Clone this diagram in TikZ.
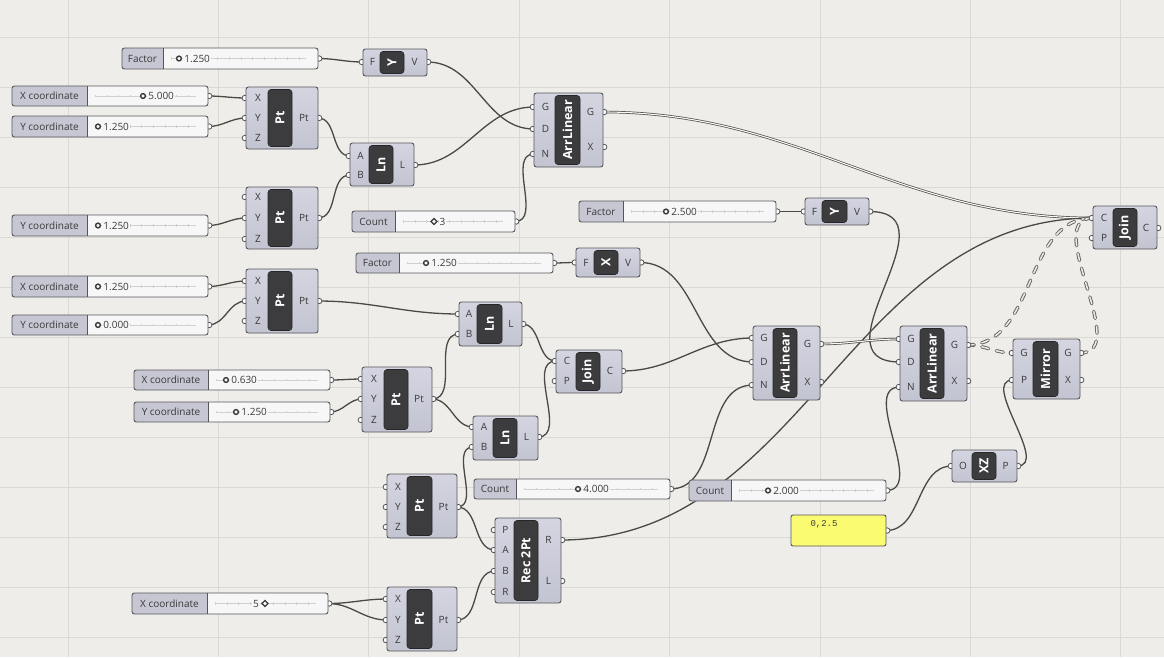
\documentclass[tikz,border=0pt]{standalone}
\usepackage{fontspec}
\setmainfont{Open Sans}
\newfontfamily\panelfont{Liberation Mono}
\usetikzlibrary{fit}
\pgfdeclarelayer{bglayer}
\pgfdeclarelayer{wirelayer}
\pgfdeclarelayer{griplayer}
\pgfsetlayers{bglayer,wirelayer,griplayer,main}
\definecolor{bgc}{HTML}{EEEDE9}
\definecolor{gridc}{HTML}{DAD9D3}
\definecolor{bodytop}{HTML}{D4D5E1}
\definecolor{bodybot}{HTML}{C3C4D1}
\definecolor{labc}{HTML}{C6C7D3}
\definecolor{edgec}{HTML}{55565A}
\definecolor{capc}{HTML}{3C3C3E}
\definecolor{wirec}{HTML}{4A4944}
\definecolor{slidc}{HTML}{F7F7F7}
\definecolor{tickc}{HTML}{D0D0D0}
\definecolor{txtc}{HTML}{3A3A3A}
\definecolor{panelc}{HTML}{FBFB72}
\definecolor{treein}{HTML}{ECEBE4}
\tikzset{
  body/.style={draw=edgec, top color=bodytop, bottom color=bodybot, line width=0.9pt, rounded corners=2.5pt, inner sep=0pt},
  capsule/.style={draw=black!85, fill=capc, line width=0.6pt, rounded corners=3pt, inner sep=0pt},
  captext/.style={text=white, font=\bfseries\fontsize{12.5}{13}\selectfont, rotate=90, inner sep=0pt},
  porttext/.style={text=txtc, font=\fontsize{10}{12}\selectfont, inner sep=0pt},
  valtext/.style={text=txtc, font=\fontsize{10}{12}\selectfont, inner sep=1pt, fill=slidc},
  slbox/.style={fill=slidc, draw=none, rounded corners=2.5pt, inner sep=0pt},
  panelbox/.style={fill=panelc, draw=edgec, line width=0.9pt, rounded corners=2pt, inner sep=0pt},
  grip/.style={draw=edgec, fill=white, line width=0.8pt},
  wire/.style={draw=wirec, line width=1.3pt, out=0, in=180},
  listwire/.style={draw=wirec, line width=0.7pt, double=white!60!bgc, double distance=1.1pt, out=0, in=180},
  treewire/.style={draw=wirec!85, line width=3.4pt, line cap=round, dash pattern=on 7pt off 8pt, out=0, in=180,
    postaction={draw=treein, line width=1.5pt, line cap=round, dash pattern=on 7pt off 8pt}}
}
\newcommand\ghcomp[8]{%
  \pgfmathsetmacro\ghlx{(#2+#6)/2+1}%
  \pgfmathsetmacro\ghrx{(#7+#4)/2-1}%
  \pgfmathsetmacro\ghl{#2}%
  \pgfmathsetmacro\ghr{#4}%
  \node[body, fit={(#2,#3) (#4,#5)}] (#1) {};
  \node[capsule, fit={(#6,{#3+2.5}) (#7,{#5-2.5})}] (#1-c) {};
  \node[captext] at (#1-c.center) {#8};
}
\newcommand\ghin[3]{%
  \coordinate (#1) at (\ghl,#2);
  \begin{pgfonlayer}{griplayer}\draw[grip] ({\ghl-1.2},#2) circle (2.7pt);\end{pgfonlayer}
  \node[porttext] at (\ghlx,#2) {#3};
}
\newcommand\ghout[3]{%
  \coordinate (#1) at (\ghr,#2);
  \begin{pgfonlayer}{griplayer}\draw[grip] ({\ghr+1.2},#2) circle (2.7pt);\end{pgfonlayer}
  \node[porttext] at (\ghrx,#2) {#3};
}
\newcommand\ghslider[7]{%
  \pgfmathsetmacro\ghsy{(#3+#5)/2}%
  \coordinate (#1) at (#4,\ghsy);
  \begin{pgfonlayer}{griplayer}\draw[grip] ({#4+1.2},\ghsy) circle (2.7pt);\end{pgfonlayer}
  \node[slbox, fit={(#2,#3) (#4,#5)}] (#1-b) {};
  \fill[labc, rounded corners=2.5pt] (#2,#3) rectangle (#6,#5);
  \fill[labc] ({#6-3},#3) rectangle (#6,#5);
  \draw[edgec, line width=0.8pt] (#6,#3) -- (#6,#5);
  \draw[edgec, line width=0.9pt, rounded corners=2.5pt] (#2,#3) rectangle (#4,#5);
  \draw[tickc, line width=0.5pt] ({#6+8},\ghsy) -- ({#4-12},\ghsy);
  \draw[tickc, line width=2.5pt, dash pattern=on 0.6pt off 11pt] ({#6+8},\ghsy) -- ({#4-12},\ghsy);
  \node[porttext] at ({(#2+#6)/2},\ghsy) {#7};
}
\newcommand\slvalc[3]{%
  \node[valtext, anchor=west] at ({#1+4.2},#2) {#3};
  \draw[txtc, line width=1.4pt, fill=slidc] (#1,#2) circle (2.4pt);
}
\newcommand\slvald[1]{%
  \draw[txtc, line width=1.1pt, fill=slidc] #1 ++(-3,0) -- ++(3,-3) -- ++(3,3) -- ++(-3,3) -- cycle;
}
\begin{document}
\begin{tikzpicture}[x=1pt, y=-1pt]
\useasboundingbox (0,0) rectangle (1164,657);
\begin{pgfonlayer}{bglayer}
  \fill[bgc] (0,0) rectangle (1164,657);
  \foreach \gx in {68,218.4,368.8,519.2,669.6,820,970.4,1120.8}
    \draw[gridc, line width=0.8pt] (\gx,0) -- (\gx,657);
  \foreach \gy in {37,87,...,637}
    \draw[gridc, line width=0.8pt] (0,\gy) -- (1164,\gy);
\end{pgfonlayer}

% ---------- sliders ----------
\ghslider{sF1}{122}{48}{318}{69}{163}{Factor}\slvalc{179}{58.5}{1.250}
\ghslider{sX1}{12}{86}{208}{106}{87}{X coordinate}\slvalc{143}{96}{5.000}
\ghslider{sY1}{12}{116}{208}{137}{87}{Y coordinate}\slvalc{98}{126.5}{1.250}
\ghslider{sY2}{12}{215}{208}{236}{87}{Y coordinate}\slvalc{98}{225.5}{1.250}
\ghslider{sX3}{12}{276}{208}{297}{87}{X coordinate}\slvalc{98}{286.5}{1.250}
\ghslider{sY3}{12}{315}{208}{335}{87}{Y coordinate}\slvalc{98}{325}{0.000}
\ghslider{sX4}{134}{370}{330}{390}{208}{X coordinate}\slvalc{226}{380}{0.630}
\ghslider{sY4}{134}{402}{330}{422}{208}{Y coordinate}\slvalc{236}{412}{1.250}
\ghslider{sC3}{352}{211}{515}{232}{395}{Count}
  \node[valtext, anchor=west] (vC3) at (438.5,221.5) {3};
  \slvald{(434,221.5)}
\ghslider{sF2}{579}{201}{776}{222}{623}{Factor}\slvalc{666}{211.5}{2.500}
\ghslider{sF3}{356}{253}{553}{273}{399}{Factor}\slvalc{426}{263}{1.250}
\ghslider{sC4}{474}{479}{670}{499}{516}{Count}\slvalc{578}{489}{4.000}
\ghslider{sC2}{689}{480}{886}{501}{731}{Count}\slvalc{768}{490.5}{2.000}
\ghslider{sX5}{132}{593}{328}{614}{207}{X coordinate}
  \node[valtext, anchor=east] (vX5) at (260,603.5) {5};
  \slvald{(265,603.5)}

% ---------- panel ----------
\node[panelbox, fit={(791,515) (886,546)}] (panelb) {};
\coordinate (panel) at (886,530.5);
\begin{pgfonlayer}{griplayer}\draw[grip] (887.2,530.5) circle (2.7pt);\end{pgfonlayer}
\node[text=txtc, font=\panelfont\fontsize{9}{10}\selectfont, inner sep=0pt] (paneltxt) at (824,524) {0,2.5};

% ---------- components ----------
\ghcomp{y1}{363}{49}{427}{76}{380}{404}{Y}
\ghin{y1F}{62}{F}\ghout{y1V}{62}{V}

\ghcomp{pt1}{246}{87}{318}{149}{268}{292}{Pt}
\ghin{pt1X}{98}{X}\ghin{pt1Y}{118}{Y}\ghin{pt1Z}{138}{Z}\ghout{pt1P}{118}{Pt}

\ghcomp{pt2}{246}{187}{318}{249}{268}{292}{Pt}
\ghin{pt2X}{197}{X}\ghin{pt2Y}{218}{Y}\ghin{pt2Z}{239}{Z}\ghout{pt2P}{218}{Pt}

\ghcomp{ln1}{350}{143}{414}{186}{369}{393}{Ln}
\ghin{ln1A}{156}{A}\ghin{ln1B}{175}{B}\ghout{ln1L}{165}{L}

\ghcomp{al1}{534}{93}{603}{167}{555}{580}{ArrLinear}
\ghin{al1G}{107}{G}\ghin{al1D}{129}{D}\ghin{al1N}{154}{N}
\ghout{al1Go}{112}{G}\ghout{al1X}{147}{X}

\ghcomp{joinT}{1093}{206}{1157}{249}{1113}{1137}{Join}
\ghin{joinTC}{218}{C}\ghin{joinTP}{238}{P}\ghout{joinTo}{228}{C}

\ghcomp{y2}{805}{198}{869}{225}{822}{847}{Y}
\ghin{y2F}{211.5}{F}\ghout{y2V}{211.5}{V}

\ghcomp{xv}{576}{248}{640}{277}{594}{618}{X}
\ghin{xvF}{262.5}{F}\ghout{xvV}{262.5}{V}

\ghcomp{pt3}{246}{269}{318}{333}{268}{292}{Pt}
\ghin{pt3X}{281}{X}\ghin{pt3Y}{301}{Y}\ghin{pt3Z}{321}{Z}\ghout{pt3P}{301}{Pt}

\ghcomp{ln2}{459}{302}{522}{346}{477}{502}{Ln}
\ghin{ln2A}{314}{A}\ghin{ln2B}{334}{B}\ghout{ln2L}{324}{L}

\ghcomp{joinM}{556}{350}{622}{393}{576}{600}{Join}
\ghin{joinMC}{361}{C}\ghin{joinMP}{381}{P}\ghout{joinMo}{371}{C}

\ghcomp{pt4}{362}{367}{432}{432}{384}{408}{Pt}
\ghin{pt4X}{379}{X}\ghin{pt4Y}{399}{Y}\ghin{pt4Z}{420}{Z}\ghout{pt4P}{399}{Pt}

\ghcomp{ln3}{473}{416}{538}{460}{493}{517}{Ln}
\ghin{ln3A}{427}{A}\ghin{ln3B}{447}{B}\ghout{ln3L}{437}{L}

\ghcomp{al2}{753}{326}{820}{400}{773}{797}{ArrLinear}
\ghin{al2G}{338}{G}\ghin{al2D}{362}{D}\ghin{al2N}{385}{N}
\ghout{al2Go}{344}{G}\ghout{al2X}{382}{X}

\ghcomp{al3}{900}{326}{967}{401}{920}{944}{ArrLinear}
\ghin{al3G}{339}{G}\ghin{al3D}{362}{D}\ghin{al3N}{387}{N}
\ghout{al3Go}{345}{G}\ghout{al3X}{381}{X}

\ghcomp{mir}{1013}{339}{1080}{399}{1033}{1058}{Mirror}
\ghin{mirG}{353}{G}\ghin{mirP}{380}{P}\ghout{mirGo}{353}{G}\ghout{mirX}{380}{X}

\ghcomp{xz}{952}{450}{1017}{482}{972}{996}{XZ}
\ghin{xzO}{466}{O}\ghout{xzP}{466}{P}

\ghcomp{pt5}{387}{474}{457}{538}{407}{432}{Pt}
\ghin{pt5X}{487}{X}\ghin{pt5Y}{507}{Y}\ghin{pt5Z}{527}{Z}\ghout{pt5P}{507}{Pt}

\ghcomp{rec}{495}{518}{561}{603}{514}{538}{Rec 2Pt}
\ghin{recP}{530}{P}\ghin{recA}{550}{A}\ghin{recB}{571}{B}\ghin{recRi}{592}{R}
\ghout{recR}{540}{R}\ghout{recL}{581}{L}

\ghcomp{pt6}{387}{587}{457}{651}{407}{432}{Pt}
\ghin{pt6X}{599}{X}\ghin{pt6Y}{620}{Y}\ghin{pt6Z}{640}{Z}\ghout{pt6P}{620}{Pt}

% ---------- wires ----------
\begin{pgfonlayer}{wirelayer}
\draw[wire] (sF1) to (y1F);
\draw[wire] (y1V) to (al1D);
\draw[wire] (ln1L) to (al1G);
\draw[wire] (sC3) to (al1N);
\draw[wire] (sX1) to (pt1X);
\draw[wire] (sY1) to (pt1Y);
\draw[wire] (pt1P) to (ln1A);
\draw[wire] (pt2P) to (ln1B);
\draw[wire] (sY2) to (pt2Y);
\draw[listwire] (al1Go) to (joinTC);
\draw[wire] (sF2) to (y2F);
\draw[wire] (y2V) to[looseness=1.5] (al3D);
\draw[wire] (sF3) to (xvF);
\draw[wire] (xvV) to (al2D);
\draw[wire] (joinMo) to (al2G);
\draw[wire] (sC4) to (al2N);
\draw[wire] (sC2) to (al3N);
\draw[wire] (recR) to (joinTC);
\draw[listwire] (al2Go) to (al3G);
\draw[treewire] (al3Go) to (mirG);
\draw[treewire] (al3Go) to (joinTC);
\draw[treewire] (mirGo) to (joinTC);
\draw[wire] (xzP) to (mirP);
\draw[wire] (panel) to (xzO);
\draw[wire] (sX3) to (pt3X);
\draw[wire] (sY3) to (pt3Y);
\draw[wire] (pt3P) to (ln2A);
\draw[wire] (pt4P) to (ln2B);
\draw[wire] (pt4P) to (ln3A);
\draw[wire] (sX4) to (pt4X);
\draw[wire] (sY4) to (pt4Y);
\draw[wire] (ln2L) to (joinMC);
\draw[wire] (ln3L) to (joinMC);
\draw[wire] (pt5P) to (ln3B);
\draw[wire] (pt5P) to (recA);
\draw[wire] (pt6P) to (recB);
\draw[wire] (sX5) to (pt6X);
\draw[wire] (sX5) to (pt6Y);
\end{pgfonlayer}
\end{tikzpicture}
\end{document}
